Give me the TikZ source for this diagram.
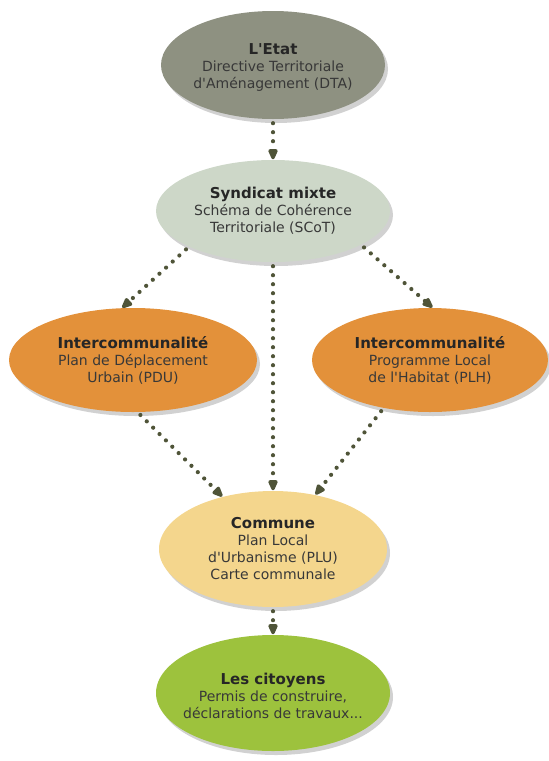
\documentclass[tikz,border=0pt]{standalone}
\usepackage{fontspec}
\setmainfont{DejaVu Sans}[Ligatures=TeXOff]
\usetikzlibrary{shapes.geometric,arrows.meta,shadows}
\definecolor{cEtat}{HTML}{8E9181}
\definecolor{cSynd}{HTML}{CDD7C8}
\definecolor{cOrange}{HTML}{E3913A}
\definecolor{cCommune}{HTML}{F4D68D}
\definecolor{cCit}{HTML}{9DC23D}
\definecolor{cArrow}{HTML}{4F5438}
\definecolor{cText}{HTML}{383838}
\tikzset{
  oval/.style={ellipse, inner sep=0pt,
    drop shadow={shadow xshift=3pt, shadow yshift=-4pt, opacity=0.18, fill=black}},
  txt/.style={align=center, text=cText, inner sep=0pt,
    font=\fontsize{14}{17}\selectfont},
  dotarrow/.style={draw=cArrow, line width=4.2pt, line cap=round,
    dash pattern=on 0pt off 9pt,
    -{Triangle[length=13pt,width=10pt,round]}, shorten >=0.5pt, shorten <=4pt}
}
\newcommand{\ttlfont}[1]{{\fontsize{15}{17}\selectfont\bfseries\color{black!85}#1}}
\begin{document}
\begin{tikzpicture}[x=1pt,y=-1pt]
\useasboundingbox (0,0) rectangle (549,761);
\node[oval, fill=cEtat, minimum width=224pt, minimum height=108pt] (etat) at (273,65) {};
\node[txt] (etatT) at (273,67) {\ttlfont{L'Etat}\\Directive Territoriale\\d'Aménagement (DTA)};
\node[oval, fill=cSynd, minimum width=234pt, minimum height=102pt] (synd) at (273,211) {};
\node[txt] (syndT) at (273,211) {\ttlfont{Syndicat mixte}\\Schéma de Cohérence\\Territoriale (SCoT)};
\node[oval, fill=cOrange, minimum width=248pt, minimum height=104pt] (pdu) at (133,360) {};
\node[txt] (pduT) at (133,360) {\ttlfont{Intercommunalité}\\Plan de Déplacement\\Urbain (PDU)};
\node[oval, fill=cOrange, minimum width=236pt, minimum height=104pt] (plh) at (430,360) {};
\node[txt] (plhT) at (430,360) {\ttlfont{Intercommunalité}\\Programme Local\\de l'Habitat (PLH)};
\node[oval, fill=cCommune, minimum width=228pt, minimum height=116pt] (commune) at (273,549) {};
\node[txt] (communeT) at (273,549) {\ttlfont{Commune}\\Plan Local\\d'Urbanisme (PLU)\\Carte communale};
\node[oval, fill=cCit, minimum width=234pt, minimum height=116pt] (cit) at (273,693) {};
\node[txt] (citT) at (273,696) {\ttlfont{Les citoyens}\\Permis de construire,\\déclarations de travaux...};
\draw[dotarrow] (etat.south) -- (synd.north);
\draw[dotarrow] (synd.203) -- (pdu.102);
\draw[dotarrow] (synd.south) -- (commune.north);
\draw[dotarrow] (synd.339) -- (plh.87);
\draw[dotarrow] (pdu.275) -- (commune.134);
\draw[dotarrow] (plh.226) -- (commune.52);
\draw[dotarrow] (commune.south) -- (cit.north);
\end{tikzpicture}
\end{document}
